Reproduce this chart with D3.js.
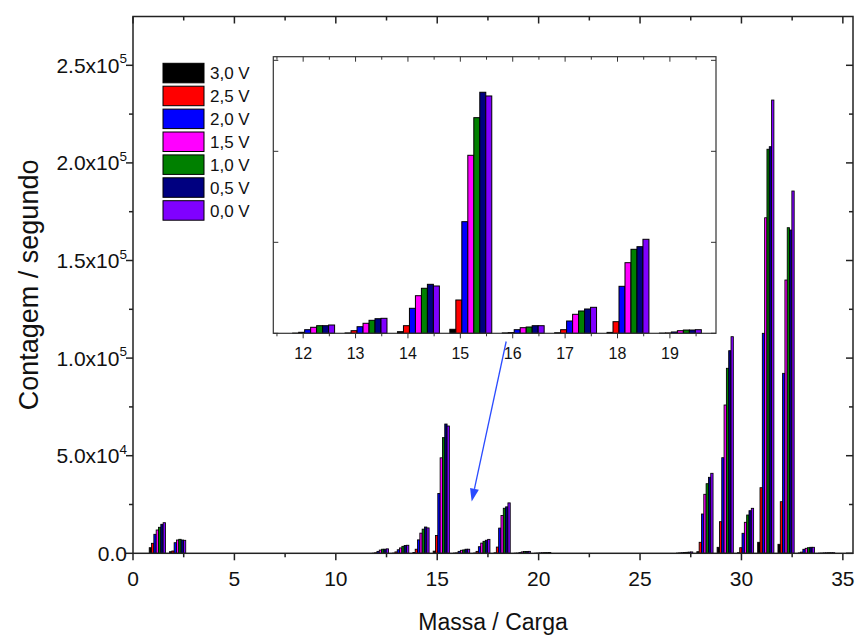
<!DOCTYPE html>
<html>
<head>
<meta charset="utf-8">
<script src="https://cdn.jsdelivr.net/npm/d3@7"></script>
<style>
  html, body { margin: 0; padding: 0; background: #fff; }
  svg { display: block; font-family: "Liberation Sans", Arial, sans-serif; }
</style>
</head>
<body>
<svg id="chart" width="855" height="637"></svg>
<script>
// m/z values that carry counts
const masses = [1, 2, 12, 13, 14, 15, 16, 17, 18, 19, 20, 27, 28, 29, 30, 31, 32, 33, 34];

// Counts per second, one array per bias voltage (same order as masses)
const v30 = [2870, 820, 50, 100, 440, 1100, 100, 150, 250, 50, 50, 100, 820, 3070, 300, 5640, 4610, 200, 50];
const v25 = [5120, 1180, 275, 715, 2090, 9150, 200, 990, 3190, 100, 100, 200, 5640, 16190, 2870, 33610, 26430, 600, 100];
const v20 = [9730, 5430, 990, 1810, 6870, 30670, 990, 3380, 12910, 360, 200, 300, 20130, 48980, 10250, 112700, 92200, 2050, 200];
const v15 = [11940, 6810, 1650, 2750, 10330, 48910, 1540, 5220, 19400, 715, 300, 400, 30230, 75970, 15880, 171900, 140000, 2560, 250];
const v10 = [13320, 7170, 2090, 3570, 12370, 59250, 1730, 6130, 23080, 900, 350, 500, 35660, 94780, 19620, 207000, 166800, 2870, 300];
const v05 = [14860, 6810, 2090, 4010, 13460, 66230, 2090, 6680, 23800, 900, 350, 600, 38930, 103800, 21830, 208300, 165600, 3070, 300];
const v00 = [15680, 6660, 2280, 4120, 13000, 65210, 2090, 7140, 25830, 990, 400, 700, 40980, 110970, 23050, 232200, 185600, 3070, 300];

const seriesNames = ["3,0 V", "2,5 V", "2,0 V", "1,5 V", "1,0 V", "0,5 V", "0,0 V"];
const seriesColors = ["#000000", "#ff0000", "#0000ff", "#ff00ff", "#008000", "#000080", "#8000ff"];
const seriesValues = [v30, v25, v20, v15, v10, v05, v00];

// Axis ticks and labels
const xTicks = [0, 5, 10, 15, 20, 25, 30, 35];
const xMinorTicks = [2.5, 7.5, 12.5, 17.5, 22.5, 27.5, 32.5];
const yTicks = [0, 50000, 100000, 150000, 200000, 250000];
const yMinorTicks = [25000, 75000, 125000, 175000, 225000];
const yTickMantissa = ["0.0", "5.0x10", "1.0x10", "1.5x10", "2.0x10", "2.5x10"];
const yTickExponent = ["", "4", "5", "5", "5", "5"];
const insetTicks = [12, 13, 14, 15, 16, 17, 18, 19];
const insetMinorTicks = [11.5, 12.5, 13.5, 14.5, 15.5, 16.5, 17.5, 18.5, 19.5];
const insetYTicks = [0, 25000, 50000, 75000];

const xTitle = "Massa / Carga";
const yTitle = "Contagem / segundo";

// Bar group layout (in m/z units): group starts at m + offset
const groupOffset = -0.2;
const groupWidth = 0.8;
const barW = groupWidth / seriesValues.length;

// Flatten into bar records
const bars = [];
masses.forEach((m, i) => {
  seriesValues.forEach((vals, s) => {
    bars.push({ m, s, v: vals[i], x0: m + groupOffset + s * barW });
  });
});

const svg = d3.select("#chart");
const axisColor = "#222";

// ---------- main plot ----------
const x = d3.scaleLinear().domain([0, 35.5]).range([133, 853]);
const y = d3.scaleLinear().domain([0, 275000]).range([553.3, 16.5]);

const main = svg.append("g");

main.append("g").selectAll("rect").data(bars.filter(d => d.v > 0)).join("rect")
  .attr("x", d => x(d.x0))
  .attr("width", d => x(d.x0 + barW) - x(d.x0))
  .attr("y", d => y(d.v))
  .attr("height", d => y(0) - y(d.v))
  .attr("fill", d => seriesColors[d.s])
  .attr("stroke", "#000")
  .attr("stroke-width", 0.85);

// Frame
main.append("rect")
  .attr("x", x.range()[0]).attr("y", y.range()[1])
  .attr("width", x.range()[1] - x.range()[0])
  .attr("height", y.range()[0] - y.range()[1])
  .attr("fill", "none").attr("stroke", axisColor).attr("stroke-width", 1.5);

function tickLines(g, vals, fx, fy, len, orient) {
  g.selectAll(null).data(vals).join("line")
    .attr("x1", d => orient === "h" ? fx(d) : fx)
    .attr("x2", d => orient === "h" ? fx(d) : fx + len)
    .attr("y1", d => orient === "h" ? fy : fy(d))
    .attr("y2", d => orient === "h" ? fy + len : fy(d))
    .attr("stroke", axisColor).attr("stroke-width", 1.5);
}

const ticksG = main.append("g");
// bottom (outward), top (inward)
tickLines(ticksG, xTicks, x, y(0), 7, "h");
tickLines(ticksG, xMinorTicks, x, y(0), 4, "h");
tickLines(ticksG, xTicks, x, y.range()[1], 7, "h");
tickLines(ticksG, xMinorTicks, x, y.range()[1], 4, "h");
// left (outward), right (inward)
tickLines(ticksG, yTicks, x(0), y, -7, "v");
tickLines(ticksG, yMinorTicks, x(0), y, -4, "v");
tickLines(ticksG, yTicks, x.range()[1], y, -7, "v");
tickLines(ticksG, yMinorTicks, x.range()[1], y, -4, "v");

// x tick labels
main.append("g").selectAll("text").data(xTicks).join("text")
  .attr("x", d => x(d)).attr("y", 586)
  .attr("text-anchor", "middle").attr("font-size", 21).attr("fill", "#111")
  .text(d => d);

// y tick labels with superscript exponent
const yl = main.append("g").selectAll("text").data(yTicks).join("text")
  .attr("x", 127).attr("y", d => y(d) + 7.5)
  .attr("text-anchor", "end").attr("font-size", 21).attr("fill", "#111");
yl.append("tspan").text((d, i) => yTickMantissa[i]);
yl.append("tspan").attr("font-size", 13.5).attr("dy", -9.5).text((d, i) => yTickExponent[i]);

// Axis titles
main.append("text")
  .attr("x", (x.range()[0] + x.range()[1]) / 2).attr("y", 630)
  .attr("text-anchor", "middle").attr("font-size", 23).attr("fill", "#111")
  .text(xTitle);
main.append("text")
  .attr("transform", `translate(38,${(y.range()[0] + y.range()[1]) / 2}) rotate(-90)`)
  .attr("text-anchor", "middle").attr("font-size", 27).attr("fill", "#111")
  .text(yTitle);

// ---------- legend ----------
const legend = svg.append("g");
const legRow = 22.9, legTop = 63.3;
legend.selectAll("rect").data(seriesNames).join("rect")
  .attr("x", 163).attr("y", (d, i) => legTop + i * legRow)
  .attr("width", 41).attr("height", 19.5)
  .attr("fill", (d, i) => seriesColors[i])
  .attr("stroke", "#000").attr("stroke-width", 1);
legend.selectAll("text").data(seriesNames).join("text")
  .attr("x", 210).attr("y", (d, i) => legTop + i * legRow + 16)
  .attr("font-size", 17).attr("fill", "#111")
  .text(d => d);

// ---------- inset ----------
const xi = d3.scaleLinear().domain([11.43, 19.88]).range([273.3, 716]);
const yi = d3.scaleLinear().domain([0, 76000]).range([333.3, 56.7]);
const inset = svg.append("g");
inset.append("rect")
  .attr("x", xi.range()[0]).attr("y", yi.range()[1])
  .attr("width", xi.range()[1] - xi.range()[0])
  .attr("height", yi.range()[0] - yi.range()[1])
  .attr("fill", "#fff");

inset.append("g").selectAll("rect")
  .data(bars.filter(d => d.m >= 12 && d.m <= 19 && d.v > 0)).join("rect")
  .attr("x", d => xi(d.x0))
  .attr("width", d => xi(d.x0 + barW) - xi(d.x0))
  .attr("y", d => yi(d.v))
  .attr("height", d => yi(0) - yi(d.v))
  .attr("fill", d => seriesColors[d.s])
  .attr("stroke", "#000").attr("stroke-width", 1);

inset.append("rect")
  .attr("x", xi.range()[0]).attr("y", yi.range()[1])
  .attr("width", xi.range()[1] - xi.range()[0])
  .attr("height", yi.range()[0] - yi.range()[1])
  .attr("fill", "none").attr("stroke", "#333").attr("stroke-width", 1.2);

function insetTicksH(vals, yy, len) {
  inset.append("g").selectAll("line").data(vals).join("line")
    .attr("x1", d => xi(d)).attr("x2", d => xi(d))
    .attr("y1", yy).attr("y2", yy + len)
    .attr("stroke", "#333").attr("stroke-width", 1);
}
function insetTicksV(vals, xx, len) {
  inset.append("g").selectAll("line").data(vals).join("line")
    .attr("x1", xx).attr("x2", xx + len)
    .attr("y1", d => yi(d)).attr("y2", d => yi(d))
    .attr("stroke", "#333").attr("stroke-width", 1);
}
insetTicksH(insetTicks, yi(0), 5);
insetTicksH(insetMinorTicks, yi(0), 3);
insetTicksH(insetTicks, yi.range()[1], 5);
insetTicksH(insetMinorTicks, yi.range()[1], 3);
insetTicksV(insetYTicks, xi.range()[0], 5);
insetTicksV(insetYTicks, xi.range()[1], -5);

inset.append("g").selectAll("text").data(insetTicks).join("text")
  .attr("x", d => xi(d)).attr("y", 359)
  .attr("text-anchor", "middle").attr("font-size", 16).attr("fill", "#111")
  .text(d => d);

// ---------- arrow from inset to the m/z 15-18 region ----------
const arrowFrom = [18.4, 108500];
const arrowTo = [16.7, 26500];
const ax1 = x(arrowFrom[0]), ay1 = y(arrowFrom[1]);
const ax2 = x(arrowTo[0]), ay2 = y(arrowTo[1]);
const ang = Math.atan2(ay2 - ay1, ax2 - ax1);
const headLen = 13, headHalf = 4.5;
const bx = ax2 - headLen * Math.cos(ang), by = ay2 - headLen * Math.sin(ang);
svg.append("line")
  .attr("x1", ax1).attr("y1", ay1).attr("x2", bx).attr("y2", by)
  .attr("stroke", "#2a4bff").attr("stroke-width", 1.3);
svg.append("path")
  .attr("d", `M${ax2},${ay2} L${bx + headHalf * Math.sin(ang)},${by - headHalf * Math.cos(ang)} L${bx - headHalf * Math.sin(ang)},${by + headHalf * Math.cos(ang)} Z`)
  .attr("fill", "#2a4bff");
</script>
</body>
</html>
